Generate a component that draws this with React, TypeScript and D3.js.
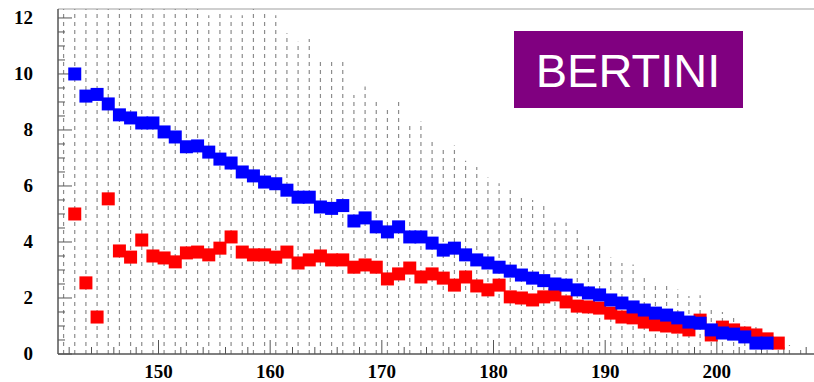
import React, { useEffect, useRef } from 'react';
import * as d3 from 'd3';

const width = 814;
const height = 382;
const margin = { top: 9, right: 0, bottom: 28, left: 58 };

// bin centres start at 142.5 for both marker series, one bin per unit
const BLUE_START = 142.5;
const blueValues = [
  10.0, 9.21, 9.27, 8.93, 8.54, 8.43, 8.25, 8.25, 7.93, 7.75, 7.4, 7.43, 7.21,
  6.96, 6.82, 6.5, 6.36, 6.14, 6.08, 5.85, 5.6, 5.6, 5.25, 5.2, 5.3, 4.75, 4.86,
  4.54, 4.36, 4.54, 4.18, 4.18, 3.96, 3.71, 3.78, 3.54, 3.36, 3.25, 3.1, 2.96,
  2.82, 2.71, 2.62, 2.5, 2.46, 2.29, 2.18, 2.11, 1.93, 1.82, 1.68, 1.57, 1.46,
  1.39, 1.29, 1.14, 1.1, 0.86, 0.75, 0.71, 0.61, 0.39, 0.39,
];

const RED_START = 142.5;
const redValues = [
  5.0, 2.54, 1.32, 5.54, 3.68, 3.46, 4.07, 3.5, 3.43, 3.29, 3.61, 3.64, 3.54,
  3.78, 4.18, 3.64, 3.54, 3.54, 3.46, 3.64, 3.25, 3.36, 3.5, 3.36, 3.36, 3.1,
  3.18, 3.1, 2.68, 2.86, 3.07, 2.75, 2.86, 2.71, 2.46, 2.75, 2.43, 2.29, 2.46,
  2.04, 2.0, 1.93, 2.04, 2.11, 1.86, 1.71, 1.68, 1.64, 1.46, 1.32, 1.29, 1.14,
  1.04, 1.0, 0.96, 0.86, 1.21, 0.68, 0.96, 0.86, 0.75, 0.68, 0.54, 0.39,
];

// tops of the dashed spread lines, from 141.5 upward (13 = runs off the top)
const SPREAD_START = 141.5;
const spreadValues = [
  13, 13, 13, 13, 13, 13, 13, 13, 13, 13, 13, 13, 13, 12.1, 12.2, 12.1, 12.1,
  13, 12.2, 12.1, 11.45, 11.15, 11.25, 10.5, 10.43, 10.57, 9.25, 9.55, 9.05,
  8.8, 9.0, 8.25, 8.3, 7.7, 7.35, 7.45, 6.9, 6.68, 6.3, 6.1, 5.95, 5.7, 5.5,
  5.3, 4.7, 4.7, 4.45, 3.95, 3.9, 3.45, 3.25, 3.2, 2.85, 2.55, 2.45, 2.3, 2.07,
  2.1, 1.7, 1.5, 1.3, 1.15, 0.96, 0.62, 0.57, 0.32, 0.2,
];

const xTicks = [150, 160, 170, 180, 190, 200];
const yTicks = [0, 2, 4, 6, 8, 10, 12];
const label = 'BERTINI';

const toPoints = (start: number, values: number[]) =>
  values.map((v, i) => ({ x: start + i, y: v }));

export default function App() {
  const ref = useRef<SVGSVGElement>(null);

  useEffect(() => {
    const svg = d3.select(ref.current);
    svg.selectAll('*').remove();

    const xScale = d3.scaleLinear().domain([141, 208.7]).range([margin.left, width]);
    const yScale = d3.scaleLinear().domain([0, 12.32]).range([height - margin.bottom, margin.top]);
    const y0 = yScale(0);

    svg.append('defs').append('clipPath').attr('id', 'plot-clip')
      .append('rect')
      .attr('x', margin.left).attr('y', margin.top)
      .attr('width', width - margin.left).attr('height', y0 - margin.top);

    // frame
    svg.append('line')
      .attr('x1', margin.left).attr('x2', width)
      .attr('y1', margin.top).attr('y2', margin.top)
      .attr('stroke', '#cfcfcf').attr('stroke-width', 2);

    // dashed spread lines
    svg.append('g').attr('clip-path', 'url(#plot-clip)')
      .selectAll('line')
      .data(toPoints(SPREAD_START, spreadValues))
      .enter().append('line')
      .attr('x1', d => xScale(d.x)).attr('x2', d => xScale(d.x))
      .attr('y1', y0).attr('y2', d => yScale(d.y))
      .attr('stroke', '#8c8c8c')
      .attr('stroke-width', 1.2)
      .attr('stroke-dasharray', '4,4');

    // axes, ROOT style: ticks pointing into the plot
    const axisColor = '#555';
    svg.append('line')
      .attr('x1', margin.left).attr('x2', width)
      .attr('y1', y0).attr('y2', y0)
      .attr('stroke', axisColor).attr('stroke-width', 1.5);
    svg.append('line')
      .attr('x1', margin.left).attr('x2', margin.left)
      .attr('y1', margin.top).attr('y2', y0)
      .attr('stroke', axisColor).attr('stroke-width', 1.5);

    const xMinor = d3.range(142, 209, 2);
    svg.append('g').selectAll('line')
      .data(xMinor)
      .enter().append('line')
      .attr('x1', d => xScale(d)).attr('x2', d => xScale(d))
      .attr('y1', y0).attr('y2', d => y0 - (d % 10 === 0 ? 14 : 7))
      .attr('stroke', axisColor).attr('stroke-width', 1);

    const yMinor = d3.range(0, 12.3, 0.5);
    svg.append('g').selectAll('line')
      .data(yMinor)
      .enter().append('line')
      .attr('x1', margin.left).attr('x2', d => margin.left + (d % 2 === 0 ? 14 : 7))
      .attr('y1', d => yScale(d)).attr('y2', d => yScale(d))
      .attr('stroke', axisColor).attr('stroke-width', 1);

    const tickFont = "'Liberation Serif', 'DejaVu Serif', Times, serif";
    svg.append('g').selectAll('text')
      .data(xTicks)
      .enter().append('text')
      .attr('x', d => xScale(d)).attr('y', 378)
      .attr('text-anchor', 'middle')
      .style('font-family', tickFont).style('font-weight', 'bold').style('font-size', '19px')
      .text(d => d);

    svg.append('g').selectAll('text')
      .data(yTicks)
      .enter().append('text')
      .attr('x', 33).attr('y', d => yScale(d) + 6)
      .attr('text-anchor', 'end')
      .style('font-family', tickFont).style('font-weight', 'bold').style('font-size', '19px')
      .text(d => d);

    // markers: red underneath, blue on top
    const size = 13;
    const drawSquares = (points: { x: number; y: number }[], color: string) => {
      svg.append('g').selectAll('rect')
        .data(points)
        .enter().append('rect')
        .attr('x', d => xScale(d.x) - size / 2)
        .attr('y', d => yScale(d.y) - size / 2)
        .attr('width', size).attr('height', size)
        .attr('fill', color);
    };
    drawSquares(toPoints(RED_START, redValues), '#ff0000');
    drawSquares(toPoints(BLUE_START, blueValues), '#0000ff');

    // label box
    const box = svg.append('g');
    box.append('rect')
      .attr('x', 514).attr('y', 31).attr('width', 229).attr('height', 77)
      .attr('fill', '#800080');
    box.append('text')
      .attr('x', 628).attr('y', 87)
      .attr('text-anchor', 'middle')
      .style('font-family', "'Liberation Sans', Arial, sans-serif")
      .style('font-size', '47px')
      .attr('fill', '#ffffff')
      .text(label);
  }, []);

  return (
    <svg
      ref={ref}
      width={width}
      height={height}
      style={{ position: 'absolute', left: 0, top: 0, background: '#fff' }}
    />
  );
}
